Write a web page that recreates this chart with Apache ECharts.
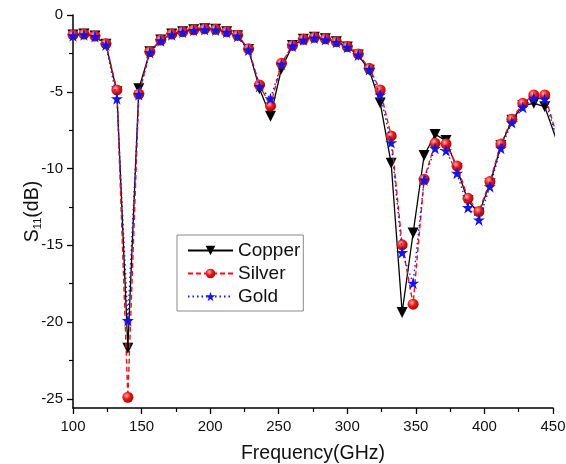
<!DOCTYPE html>
<html><head><meta charset="utf-8">
<script src="https://cdn.jsdelivr.net/npm/echarts@6/dist/echarts.min.js"></script>
<style>html,body{margin:0;padding:0;background:#fff}#c{width:566px;height:464px}</style>
</head><body><div id="c"></div>
<script>
const freq = [100,108,116,124,132,140,148,156,164,172,180,188,196,204,212,220,228,236,244,252,260,268,276,284,292,300,308,316,324,332,340,348,356,364,372,380,388,396,404,412,420,428,436,444,452];
const copper = [-1.3,-1.24,-1.37,-1.9,-5.0,-21.7,-4.8,-2.4,-1.63,-1.24,-1.09,-0.96,-0.9,-0.93,-1.09,-1.35,-2.25,-4.8,-6.6,-3.5,-1.98,-1.58,-1.45,-1.55,-1.74,-2.08,-2.6,-3.6,-5.73,-9.66,-19.38,-14.2,-9.15,-7.78,-8.18,-10.0,-12.1,-12.9,-11.0,-8.5,-6.85,-5.9,-5.75,-5.97,-8.0];
const silver = [-1.3,-1.24,-1.37,-1.88,-4.88,-24.9,-5.15,-2.39,-1.63,-1.24,-1.09,-0.96,-0.9,-0.93,-1.09,-1.32,-2.2,-4.56,-5.92,-3.15,-1.98,-1.58,-1.45,-1.55,-1.74,-2.06,-2.54,-3.47,-4.88,-7.88,-14.97,-18.84,-10.7,-8.35,-8.4,-9.83,-11.94,-12.8,-10.85,-8.4,-6.79,-5.75,-5.21,-5.21,-7.6];
const gold = [-1.35,-1.28,-1.4,-1.95,-5.45,-19.9,-5.18,-2.45,-1.68,-1.28,-1.12,-1.0,-0.95,-0.97,-1.12,-1.38,-2.28,-4.65,-5.45,-3.2,-2.02,-1.62,-1.5,-1.6,-1.78,-2.1,-2.6,-3.55,-5.2,-8.31,-15.47,-17.47,-10.74,-8.68,-8.83,-10.31,-12.54,-13.35,-11.18,-8.68,-7.01,-6.01,-5.42,-5.47,-7.8];
const seriesNames = ['Copper','Silver','Gold'];
const yTicks = [0,-5,-10,-15,-20,-25];
const yMinorTicks = [-2.5,-7.5,-12.5,-17.5,-22.5];

const FONT = "'Liberation Sans', Arial, sans-serif";
const pairs = arr => freq.map((f,i)=>[f,arr[i]]);
const star = 'path://M50,0 L61.2,34.5 L97.6,34.5 L68.2,55.9 L79.4,90.5 L50,69.1 L20.6,90.5 L31.8,55.9 L2.4,34.5 L38.8,34.5 Z';

const chart = echarts.init(document.getElementById('c'), null, {renderer:'canvas'});
chart.setOption({
  animation:false,
  backgroundColor:'#fff',
  textStyle:{fontFamily:FONT},
  grid:{left:73, right:13, top:15, bottom:56, containLabel:false, outerBoundsMode:'none'},
  legend:{
    orient:'vertical', left:177, top:235,
    padding:[6,3,5,10],
    borderColor:'#8a8a8a', borderWidth:1,
    itemWidth:45, itemHeight:12, itemGap:4,
    textStyle:{fontSize:19, color:'#111', fontFamily:FONT},
    data:seriesNames
  },
  xAxis:{
    type:'value', min:100, max:450, interval:50,
    axisLine:{onZero:false, lineStyle:{color:'#000', width:1.5}},
    axisTick:{inside:false, length:6, lineStyle:{color:'#000', width:1.3}},
    minorTick:{show:true, splitNumber:2, length:4, lineStyle:{color:'#000', width:1.2}},
    axisLabel:{fontSize:15, color:'#111', margin:11, fontFamily:FONT},
    splitLine:{show:false},
    name:'Frequency(GHz)', nameLocation:'middle', nameGap:36, nameMoveOverlap:false,
    nameTextStyle:{fontSize:19.5, color:'#111', fontFamily:FONT}
  },
  yAxis:[{
    type:'value', min:-25.6, max:0,
    axisLine:{onZero:false, lineStyle:{color:'#000', width:1.5}},
    axisTick:{length:6, customValues:yTicks, lineStyle:{color:'#000', width:1.3}},
    axisLabel:{fontSize:15, color:'#111', margin:10, customValues:yTicks, fontFamily:FONT},
    splitLine:{show:false},
    name:'S{sub|11}(dB)', nameLocation:'middle', nameGap:30, nameRotate:90, nameMoveOverlap:false,
    nameTextStyle:{fontSize:19.5, color:'#111', fontFamily:FONT,
      rich:{sub:{fontSize:11, color:'#111', verticalAlign:'bottom', padding:[10,0,0,0], fontFamily:FONT}}}
  },{
    type:'value', min:-25.6, max:0, position:'left',
    axisLine:{show:false},
    axisTick:{show:true, length:4, customValues:yMinorTicks, lineStyle:{color:'#000', width:1.2}},
    axisLabel:{show:false},
    splitLine:{show:false}
  }],
  series:[
    {name:'Copper', type:'line', data:pairs(copper), yAxisIndex:0,
      symbol:'triangle', symbolRotate:180, symbolSize:11, showAllSymbol:true,
      lineStyle:{color:'#000', width:1.3, type:'solid'},
      itemStyle:{color:'#000'}, z:2},
    {name:'Silver', type:'line', data:pairs(silver), yAxisIndex:0,
      symbol:'circle', symbolSize:11, showAllSymbol:true,
      lineStyle:{color:'#e3141b', width:1.4, type:[5,3]},
      itemStyle:{color:{type:'radial', x:0.38, y:0.35, r:0.7, colorStops:[
        {offset:0, color:'#ffb0b0'},{offset:0.45, color:'#ee1c1c'},{offset:1, color:'#a00000'}]}}, z:3},
    {name:'Gold', type:'line', data:pairs(gold), yAxisIndex:0,
      symbol:star, symbolSize:12, showAllSymbol:true,
      lineStyle:{color:'#1a1ad8', width:1.4, type:[1.5,3]},
      itemStyle:{color:'#1414e6'}, z:4}
  ]
});
</script></body></html>
